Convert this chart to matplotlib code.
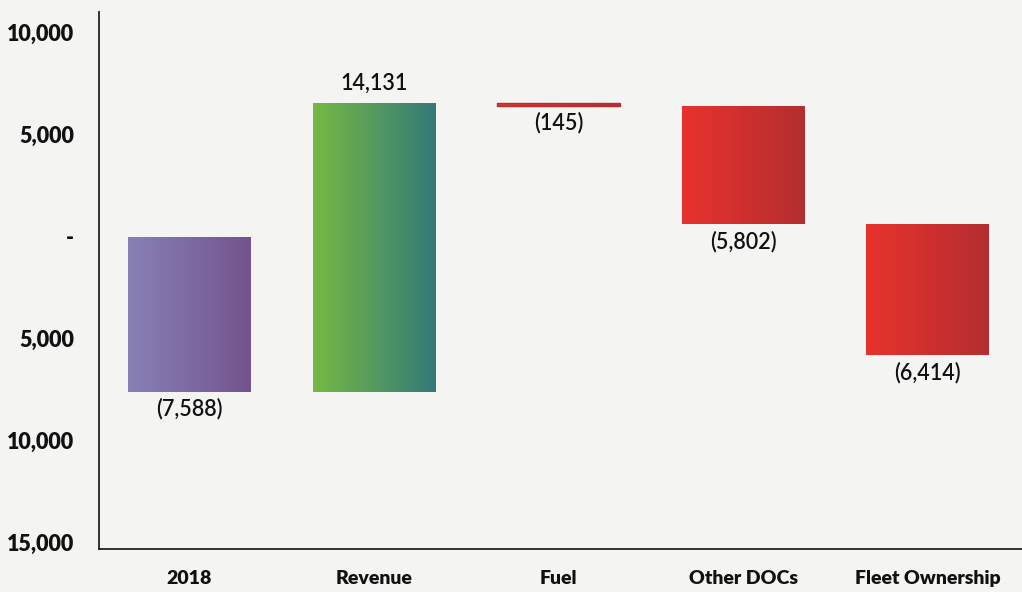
import matplotlib
matplotlib.use("Agg")
import matplotlib.pyplot as plt
import numpy as np
from matplotlib.colors import LinearSegmentedColormap

categories = ["2018", "Revenue", "Fuel", "Other DOCs", "Fleet Ownership"]
changes = [-7588, 14131, -145, -5802, -6414]
value_labels = ["(7,588)", "14,131", "(145)", "(5,802)", "(6,414)"]
yticks = [10000, 5000, 0, -5000, -10000, -15000]
ytick_labels = ["10,000", "5,000", "-", "5,000", "10,000", "15,000"]
grad_colors = [
    ("#8881b6", "#73538e"),
    ("#77b943", "#337a79"),
    ("#e8322d", "#b42e30"),
    ("#e8322d", "#b42e30"),
    ("#e8322d", "#b42e30"),
]

plt.rcParams['font.family'] = ['Lato', 'DejaVu Sans']

fig = plt.figure(figsize=(10.22, 5.92), dpi=100)
bg = "#f4f4f3"
fig.patch.set_facecolor(bg)
ax = fig.add_axes([99/1022, 43/592, 923/1022, 537/592])
ax.set_facecolor(bg)

x = np.arange(len(categories))
bottoms = []
running = 0
for c in changes:
    if c >= 0:
        bottoms.append(running)
    else:
        bottoms.append(running + c)
    running += c
heights = [abs(c) for c in changes]

bars = ax.bar(x, heights, bottom=bottoms, width=0.665, color="none", edgecolor="none")
grad = np.linspace(0, 1, 256).reshape(1, -1)
for b, (c1, c2) in zip(bars, grad_colors):
    cmap = LinearSegmentedColormap.from_list("g", [c1, c2])
    x0, y0 = b.get_x(), b.get_y()
    w, h = b.get_width(), b.get_height()
    im = ax.imshow(grad, cmap=cmap, aspect="auto", extent=[x0, x0 + w, y0, y0 + h],
                   zorder=2, interpolation="bilinear")
    im.set_clip_path(b)
    if h < 400:
        b.set_edgecolor(c2)
        b.set_linewidth(1.0)
        b.set_zorder(3)

for i, (c, lab) in enumerate(zip(changes, value_labels)):
    top = bottoms[i] + heights[i]
    if c >= 0:
        ax.text(x[i], top + 450, lab, ha="center", va="bottom", fontsize=15.5,
                fontweight="semibold", color="#111111")
    else:
        ax.text(x[i], bottoms[i] - 300, lab, ha="center", va="top", fontsize=15.5,
                fontweight="semibold", color="#111111")

ax.set_xlim(-0.49, 4.51)
ax.set_ylim(-15300, 11000)
ax.set_yticks(yticks)
ax.set_yticklabels(ytick_labels, fontsize=15.5, fontweight="heavy", color="#111111")
ax.set_xticks(x)
ax.set_xticklabels(categories, fontsize=14, fontweight="heavy", color="#111111")
ax.tick_params(axis="y", length=0, pad=18)
ax.tick_params(axis="x", length=0, pad=15)
for s in ["top", "right"]:
    ax.spines[s].set_visible(False)
for s in ["left", "bottom"]:
    ax.spines[s].set_color("#222222")
    ax.spines[s].set_linewidth(1.3)

fig.savefig("out.png", dpi=100, facecolor=bg)
